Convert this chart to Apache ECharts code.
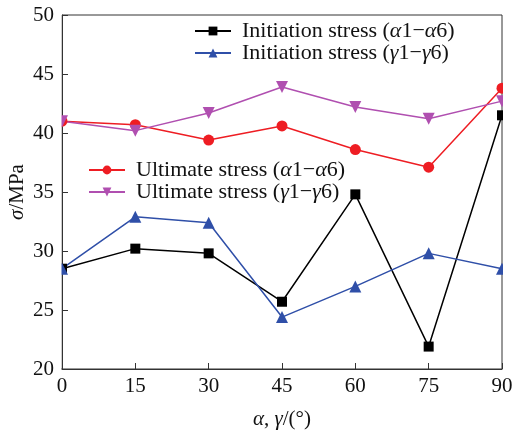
<!DOCTYPE html>
<html>
<head>
<meta charset="utf-8">
<script src="https://cdn.jsdelivr.net/npm/echarts@6/dist/echarts.min.js"></script>
<style>
    html, body { margin: 0; padding: 0; background: #fff; }
    #stress-chart { width: 514px; height: 435px; }
</style>
</head>
<body>
<div id="stress-chart"></div>
<script>
    // 角度 α, γ (°)
    var angles = [0, 15, 30, 45, 60, 75, 90];
    var xTicks = [0, 15, 30, 45, 60, 75, 90];
    var yTicks = [20, 25, 30, 35, 40, 45, 50];
    // 起裂应力 / 极限应力 (MPa)
    var initAlpha = [28.5, 30.2, 29.8, 25.7, 34.8, 21.9, 41.5];
    var initGamma = [28.5, 32.9, 32.4, 24.4, 27.0, 29.8, 28.5];
    var ultAlpha = [41.0, 40.7, 39.4, 40.6, 38.6, 37.1, 43.8];
    var ultGamma = [41.0, 40.2, 41.7, 43.9, 42.2, 41.2, 42.7];

    var FONT = '"Liberation Serif", "DejaVu Serif", serif';

    function pairs(vals) {
        return angles.map(function (a, i) { return [a, vals[i]]; });
    }

    function rich(size) {
        return {
            n: { fontFamily: FONT, fontSize: size, color: '#111' },
            i: { fontFamily: FONT, fontSize: size, color: '#111', fontStyle: 'italic' }
        };
    }

    function legendName(name) {
        // 希腊字母用斜体
        var out = '';
        for (var k = 0; k < name.length; k++) {
            var ch = name[k];
            out += (ch === 'α' || ch === 'γ') ? '{i|' + ch + '}' : '{n|' + ch + '}';
        }
        return out;
    }

    var names = [
        'Initiation stress (α1−α6)',
        'Initiation stress (γ1−γ6)',
        'Ultimate stress (α1−α6)',
        'Ultimate stress (γ1−γ6)'
    ];

    function lineSeries(name, vals, color, symbol, size, rotate) {
        return {
            name: name,
            type: 'line',
            data: pairs(vals),
            symbol: symbol,
            symbolSize: size,
            symbolRotate: rotate || 0,
            lineStyle: { color: color, width: 1.5 },
            itemStyle: { color: color },
            animation: false
        };
    }

    function legendBox(data, left, top) {
        return {
            data: data,
            orient: 'vertical',
            left: left, top: top,
            itemWidth: 36, itemHeight: 11,
            itemGap: 0,
            formatter: legendName,
            textStyle: { rich: rich(22), padding: [0, 0, 0, 6] }
        };
    }

    var myEcharts = echarts.init(document.getElementById('stress-chart'));
    myEcharts.setOption({
        backgroundColor: '#fff',
        grid: {
            left: 62, right: 12, top: 15, bottom: 66,
            outerBoundsMode: 'none',
            containLabel: false,
            show: true,
            borderColor: '#333',
            borderWidth: 1
        },
        legend: [
            legendBox([names[0], names[1]], 189, 15),
            legendBox([names[2], names[3]], 83, 154)
        ],
        xAxis: {
            type: 'value',
            min: 0, max: 90, interval: 15,
            name: '{i|α}{n|, }{i|γ}{n|/(°)}',
            nameLocation: 'middle',
            nameGap: 40,
            nameTextStyle: { rich: rich(21) },
            axisLine: { lineStyle: { color: '#333', width: 1 } },
            axisTick: { inside: true, length: 6, lineStyle: { color: '#333' } },
            axisLabel: {
                fontFamily: FONT, fontSize: 21, color: '#111', margin: 7,
                formatter: function (v) { return xTicks.indexOf(v) >= 0 ? String(v) : ''; }
            },
            splitLine: { show: false }
        },
        yAxis: {
            type: 'value',
            min: 20, max: 50, interval: 5,
            name: '{i|σ}{n|/MPa}',
            nameLocation: 'middle',
            nameGap: 34,
            nameMoveOverlap: false,
            nameRotate: 90,
            nameTextStyle: { rich: rich(21) },
            axisLine: { show: true, lineStyle: { color: '#333', width: 1 } },
            axisTick: { show: true, inside: true, length: 6, lineStyle: { color: '#333' } },
            axisLabel: {
                fontFamily: FONT, fontSize: 21, color: '#111', margin: 8,
                formatter: function (v) { return yTicks.indexOf(v) >= 0 ? String(v) : ''; }
            },
            splitLine: { show: false }
        },
        // 边框外的标记被裁掉一半
        graphic: [
            { type: 'rect', shape: { x: 503, y: 0, width: 11, height: 368 }, style: { fill: '#fff' }, z: 100 },
            { type: 'rect', shape: { x: 55, y: 8, width: 6.5, height: 360 }, style: { fill: '#fff' }, z: 100 }
        ],
        series: [
            lineSeries(names[0], initAlpha, '#000000', 'rect', 10),
            lineSeries(names[1], initGamma, '#2f4fa8', 'triangle', 12),
            lineSeries(names[2], ultAlpha, '#ee1d23', 'circle', 11),
            lineSeries(names[3], ultGamma, '#b04fb0', 'triangle', 12, 180)
        ]
    });
</script>
</body>
</html>
